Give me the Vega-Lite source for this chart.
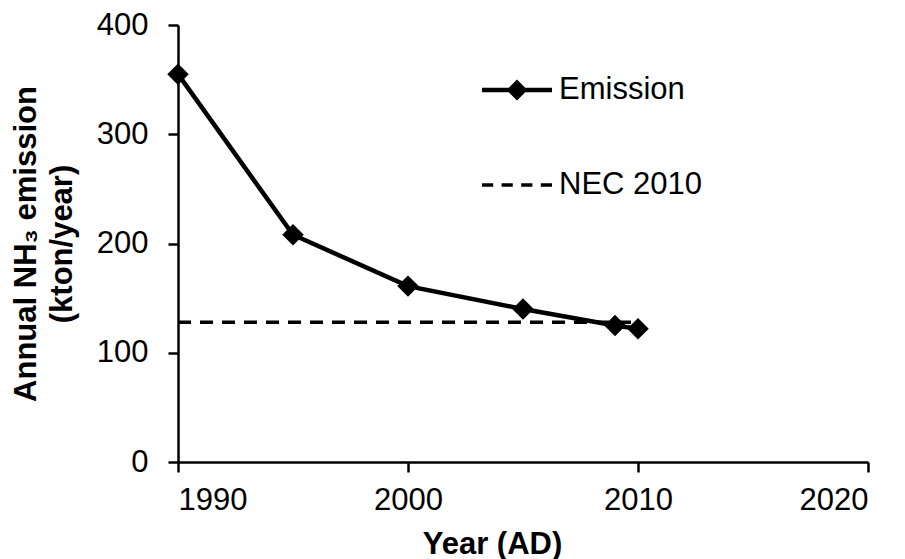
{
  "$schema": "https://vega.github.io/schema/vega-lite/v6.json",
  "autosize": "none",
  "width": 690,
  "height": 437,
  "padding": {"left": 178, "top": 25, "right": 37, "bottom": 97},
  "background": "white",
  "config": {
    "view": {"stroke": null},
    "font": "Liberation Sans",
    "axis": {
      "grid": false,
      "domainColor": "black",
      "domainWidth": 2.5,
      "tickColor": "black",
      "tickWidth": 2.5,
      "tickSize": 10,
      "labelFont": "Liberation Sans",
      "labelFontSize": 31,
      "labelColor": "black",
      "titleFont": "Liberation Sans",
      "titleFontSize": 31,
      "titleFontWeight": "bold",
      "titleColor": "black"
    }
  },
  "data": {
    "values": [
      {"year": 1990, "value": 355, "series": "Emission"},
      {"year": 1995, "value": 208, "series": "Emission"},
      {"year": 2000, "value": 161, "series": "Emission"},
      {"year": 2005, "value": 140, "series": "Emission"},
      {"year": 2009, "value": 125, "series": "Emission"},
      {"year": 2010, "value": 122, "series": "Emission"},
      {"year": 1990, "value": 128, "series": "NEC 2010"},
      {"year": 2010, "value": 128, "series": "NEC 2010"}
    ]
  },
  "encoding": {
    "x": {
      "field": "year",
      "type": "quantitative",
      "scale": {"domain": [1990, 2020], "nice": false, "zero": false},
      "axis": {
        "values": [1990, 2000, 2010, 2020],
        "format": "d",
        "labelPadding": 13,
        "title": "Year (AD)",
        "titleX": 314,
        "titleY": 91,
        "titleBaseline": "alphabetic",
        "titleAlign": "center"
      }
    },
    "y": {
      "field": "value",
      "type": "quantitative",
      "scale": {"domain": [0, 400], "nice": false},
      "axis": {
        "values": [0, 100, 200, 300, 400],
        "labelPadding": 20,
        "title": ["Annual NH₃ emission", "(kton/year)"],
        "titleLineHeight": 36,
        "titlePadding": 18
      }
    }
  },
  "layer": [
    {
      "transform": [{"filter": "datum.series === 'NEC 2010'"}],
      "mark": {"type": "line", "color": "black", "strokeWidth": 3.5, "strokeDash": [13, 9]}
    },
    {
      "transform": [{"filter": "datum.series === 'Emission'"}],
      "mark": {"type": "line", "color": "black", "strokeWidth": 4.5}
    },
    {
      "transform": [{"filter": "datum.series === 'Emission'"}],
      "mark": {"type": "point", "shape": "diamond", "filled": true, "color": "black", "size": 460, "opacity": 1}
    },
    {
      "transform": [{"filter": "false"}],
      "mark": {"type": "point", "filled": true, "color": "black", "opacity": 1},
      "encoding": {
        "shape": {
          "field": "series",
          "type": "nominal",
          "scale": {
            "domain": ["Emission", "NEC 2010"],
            "range": [
              "M-1,-0.065L1,-0.065L1,0.065L-1,0.065ZM0,-0.3L0.3,0L0,0.3L-0.3,0Z",
              "M-1,-0.05L-0.68,-0.05L-0.68,0.05L-1,0.05ZM-0.44,-0.05L-0.12,-0.05L-0.12,0.05L-0.44,0.05ZM0.12,-0.05L0.44,-0.05L0.44,0.05L0.12,0.05ZM0.68,-0.05L1,-0.05L1,0.05L0.68,0.05Z"
            ]
          },
          "legend": {
            "title": null,
            "orient": "none",
            "legendX": 304,
            "legendY": 30,
            "padding": 0,
            "labelFontSize": 31,
            "labelFont": "Liberation Sans",
            "labelColor": "black",
            "labelOffset": 7,
            "rowPadding": 45,
            "symbolSize": 4900,
            "symbolFillColor": "black",
            "symbolStrokeWidth": 0,
            "symbolOpacity": 1,
            "encode": {
              "symbols": {
                "update": {
                  "fill": {"value": "black"},
                  "opacity": {"value": 1},
                  "fillOpacity": {"value": 1}
                }
              }
            }
          }
        }
      }
    }
  ]
}
